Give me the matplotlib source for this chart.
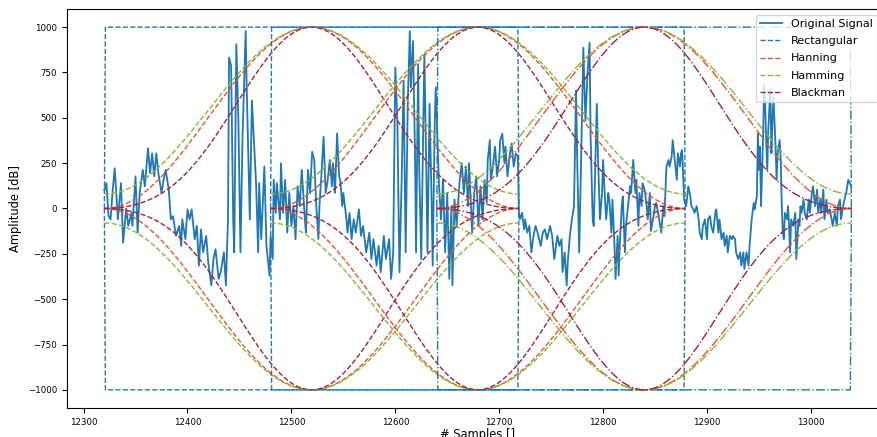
import numpy as np
import matplotlib
matplotlib.use("Agg")
import matplotlib.pyplot as plt

# --- data ---
frame_starts = [12320, 12480, 12640]
frame_len = 400
amp = 1000

sig_samples = [
    12320, 12322, 12324, 12326, 12328, 12330, 12333, 12336, 12338, 12341, 12343, 12346, 12347,
    12350, 12352, 12354, 12357, 12359, 12362, 12364, 12366, 12368, 12370, 12372, 12375, 12377,
    12379, 12382, 12384, 12386, 12389, 12392, 12394, 12395, 12398, 12400, 12402, 12404, 12407,
    12409, 12411, 12413, 12415, 12418, 12420, 12423, 12425, 12427, 12430, 12432, 12435, 12437,
    12439, 12440, 12442, 12444, 12445, 12447, 12449, 12451, 12453, 12456, 12457, 12460, 12462,
    12466, 12468, 12469, 12471, 12474, 12476, 12479, 12480, 12482, 12483, 12485, 12486, 12489,
    12490, 12492, 12494, 12496, 12498, 12500, 12502, 12504, 12506, 12508, 12510, 12513, 12514,
    12516, 12518, 12520, 12522, 12524, 12526, 12527, 12529, 12531, 12533, 12535, 12537, 12539,
    12540, 12542, 12544, 12546, 12547, 12549, 12550, 12553, 12554, 12556, 12558, 12560, 12562,
    12565, 12567, 12569, 12572, 12575, 12577, 12579, 12582, 12584, 12586, 12589, 12591, 12594,
    12596, 12598, 12600, 12602, 12604, 12606, 12608, 12610, 12612, 12614, 12615, 12617, 12619,
    12620, 12622, 12623, 12625, 12627, 12628, 12630, 12631, 12633, 12635, 12636, 12638, 12639,
    12642, 12644, 12646, 12648, 12650, 12652, 12654, 12655, 12657, 12659, 12662, 12664, 12666,
    12668, 12670, 12671, 12674, 12676, 12678, 12680, 12682, 12684, 12686, 12688, 12689, 12691,
    12692, 12694, 12696, 12698, 12700, 12701, 12703, 12705, 12706, 12708, 12710, 12712, 12714,
    12716, 12718, 12719, 12720, 12722, 12724, 12725, 12727, 12729, 12731, 12733, 12735, 12737,
    12740, 12742, 12744, 12746, 12749, 12751, 12753, 12756, 12758, 12760, 12761, 12763, 12765,
    12766, 12768, 12770, 12772, 12774, 12775, 12777, 12779, 12781, 12783, 12785, 12787, 12788,
    12790, 12791, 12792, 12794, 12795, 12797, 12799, 12800, 12802, 12803, 12805, 12806, 12808,
    12809, 12811, 12812, 12814, 12815, 12816, 12818, 12819, 12821, 12822, 12824, 12826, 12827,
    12829, 12831, 12832, 12834, 12835, 12837, 12838, 12840, 12842, 12843, 12845, 12846, 12848,
    12850, 12851, 12853, 12855, 12856, 12858, 12859, 12861, 12863, 12864, 12866, 12867, 12869,
    12871, 12872, 12874, 12875, 12876, 12877, 12878, 12880, 12882, 12884, 12885, 12887, 12888,
    12890, 12892, 12893, 12895, 12896, 12898, 12900, 12901, 12903, 12904, 12906, 12908, 12909,
    12911, 12912, 12914, 12916, 12917, 12919, 12920, 12922, 12924, 12925, 12927, 12928, 12930,
    12932, 12933, 12935, 12936, 12938, 12940, 12941, 12943, 12945, 12946, 12948, 12949, 12950,
    12951, 12952, 12954, 12955, 12956, 12957, 12958, 12959, 12961, 12962, 12963, 12964, 12966,
    12967, 12968, 12970, 12971, 12972, 12973, 12974, 12975, 12977, 12978, 12979, 12980, 12981,
    12983, 12985, 12986, 12988, 12989, 12990, 12991, 12993, 12994, 12996, 12998, 12999, 13001,
    13002, 13004, 13006, 13007, 13009, 13010, 13012, 13013, 13015, 13016, 13018, 13020, 13021,
    13023, 13025, 13026, 13028, 13029, 13031, 13033, 13034, 13036, 13039,
]
sig_values = [
    100, 140, -40, -60, 100, 222, -60, 140, -188, 0, -96, -24, -96,
    177, -133, 86, 213, 122, 332, 195, 304, 177, 304, 195, 86, 158,
    213, 104, -60, -42, -151, -96, -206, -60, -169, -5, -60, -5, -169,
    -96, -315, -115, -242, -151, -297, -424, -279, -224, -388, -351, -242, -424,
    -60, 832, 787, -60, -242, 906, 486, -242, 395, 978, 668, -60, 596,
    140, -242, 140, -169, 232, -206, -370, -151, -279, 158, -24, 140, -60,
    249, -24, 158, -133, 86, -96, 13, -169, 122, 13, 213, -60, -133,
    213, 86, 313, 268, 13, -169, 13, 195, 395, 86, 158, 268, 122,
    250, 86, 413, 177, 158, 13, 86, -60, -133, -24, -169, -60, -133,
    -5, -151, -96, -242, -133, -279, -169, -315, -206, -351, -151, -279, -169,
    -388, -242, 777, 486, -351, 122, 705, -242, 577, 978, 668, 923, 304,
    -242, 796, 231, -279, 450, 851, 158, -242, 577, 31, -315, 486, 668,
    140, -60, 158, -242, 86, -388, 13, -424, 49, -96, 158, 250, 86,
    231, 13, 250, -133, 86, 177, -96, 122, -60, 158, 31, 268, 377,
    158, 231, 341, 177, 268, 377, 413, 250, 341, 177, 286, 359, 231,
    304, 286, -24, -60, -24, -115, -60, -133, -96, -242, -151, -96, -133,
    -206, -133, -115, -169, -96, -151, -279, -151, -206, -169, -351, -242, -424,
    -297, -151, -60, 13, 650, 304, -242, 304, 887, 486, 741, 914, 395,
    -60, -96, 122, 577, 304, -60, 86, 268, 31, -60, 86, 49, -133,
    49, -206, -388, -151, -370, -206, 13, 67, -242, -96, 13, 122, 86,
    268, 86, 158, -96, 86, 13, 140, 104, 13, -60, 86, -124, -60,
    13, 31, -24, -96, -133, 13, -42, 231, 268, 231, 286, 377, 268,
    158, 304, 231, 304, 322, 195, 49, 13, 122, 67, 13, -5, -24,
    13, -60, -133, -169, -96, -60, -169, -60, -42, -96, -133, -24, -5,
    -133, -60, -169, -133, -206, -151, -242, -151, -169, -151, -169, -242, -279,
    -242, -315, -242, -333, -242, -315, -206, -60, 31, -5, 67, 413, 213,
    341, 13, 395, 680, 577, 377, 213, 432, 660, 304, 486, 614, 341,
    158, 304, 377, 268, 13, -133, -169, -24, -60, 13, -96, -242, -60,
    -96, -24, -279, -60, -96, 13, -24, 49, -24, -60, 49, -24, 86,
    122, 13, 104, -24, 49, -24, 104, -60, 49, -24, -5, -60, -96,
    -24, -96, 13, 49, -60, 13, 67, 86, 158, 120,
]

windows = {
    "Rectangular": np.r_[0.0, np.ones(frame_len - 2), 0.0],
    "Hanning": np.hanning(frame_len),
    "Hamming": np.hamming(frame_len),
    "Blackman": np.blackman(frame_len),
}
win_colors = {
    "Rectangular": "#1f77b4",
    "Hanning": "#e4572e",
    "Hamming": "#8db43a",
    "Blackman": "#a3203f",
}
frame_styles = ["--", "--", "-."]

fig = plt.figure(figsize=(8.77, 4.37), dpi=100)
ax = fig.add_axes([0.0764, 0.0664, 0.937, 0.913])

ax.plot(sig_samples, sig_values, color="#1f77b4", lw=1.3, label="Original Signal")

for k, start in enumerate(frame_starts):
    n = np.arange(start, start + frame_len)
    for name, w in windows.items():
        lab = name if k == 0 else None
        ax.plot(n, amp * w, color=win_colors[name], ls=frame_styles[k], lw=1.0, label=lab)
        ax.plot(n, -amp * w, color=win_colors[name], ls=frame_styles[k], lw=1.0)

ax.set_yticks(np.arange(-1000, 1001, 250))
ax.set_xticks(np.arange(12300, 13001, 100))
ax.tick_params(labelsize=6.2)
ax.grid(False)
ax.set_xlabel("# Samples []", fontsize=8.3, labelpad=1)
ax.set_ylabel("Amplitude [dB]", fontsize=8.3)
ax.legend(loc="upper right", bbox_to_anchor=(0.993, 1.0), fontsize=8,
          labelspacing=0.65)

fig.savefig("out.png", dpi=100)
